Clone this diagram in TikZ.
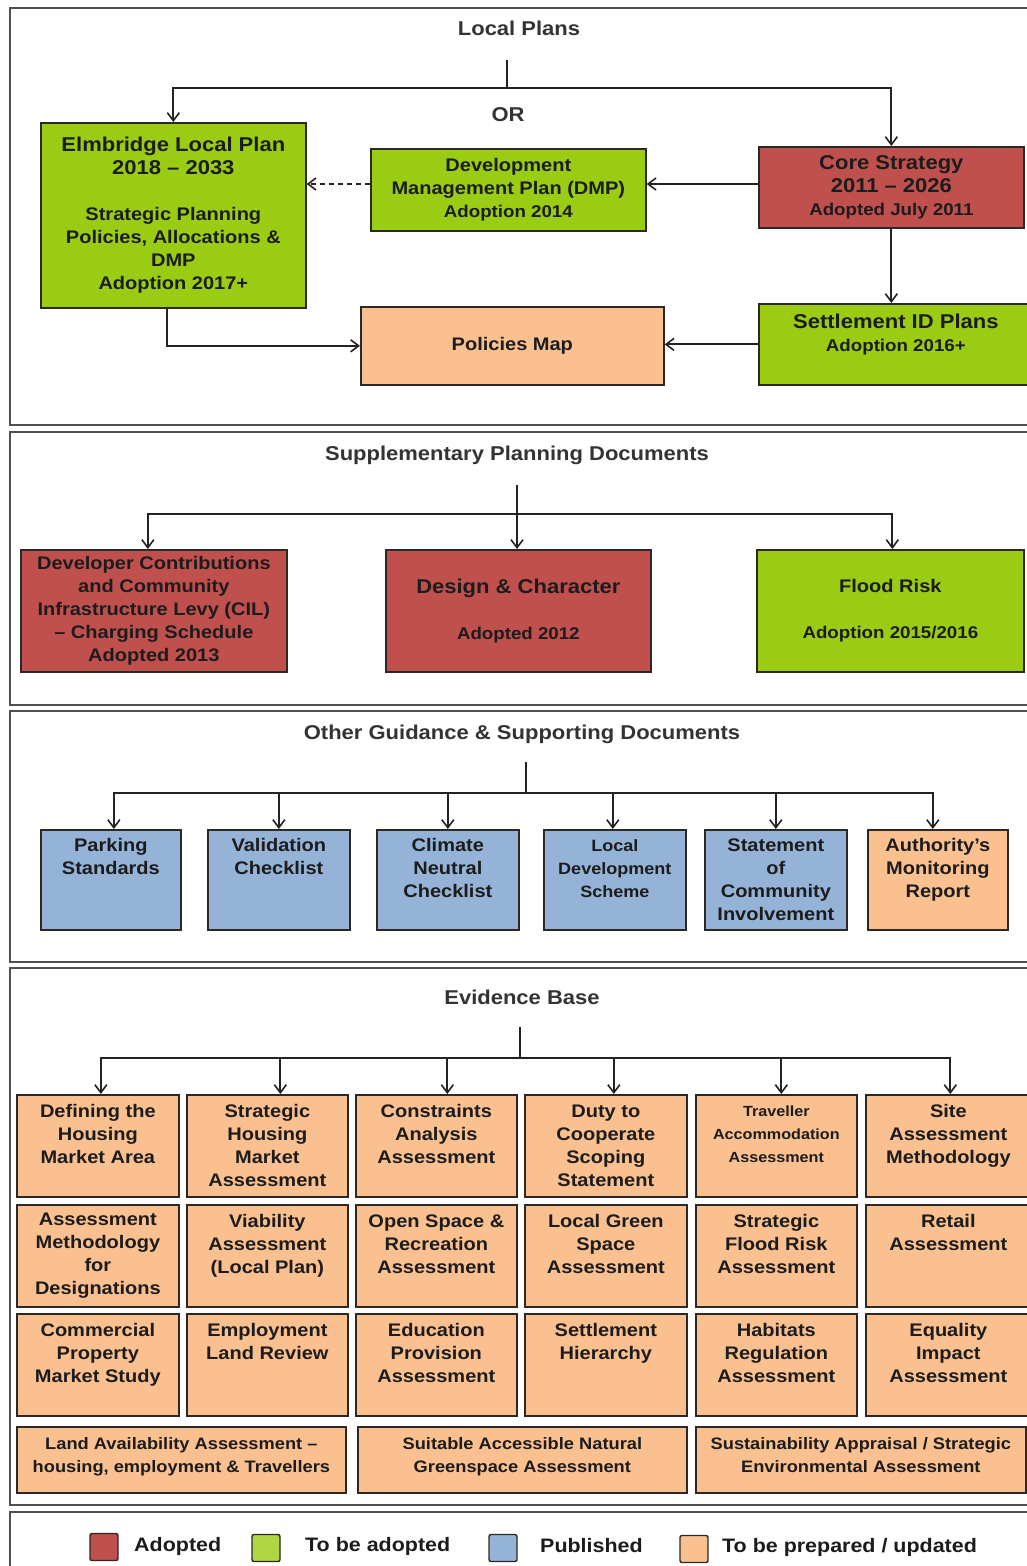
\documentclass[tikz,border=0pt]{standalone}
\usepackage{fontspec}
\setmainfont{Liberation Sans}[FakeStretch=1.1]
\usetikzlibrary{arrows.meta}
\definecolor{cred}{RGB}{192,80,77}
\definecolor{cgreen}{RGB}{154,204,20}
\definecolor{cblue}{RGB}{149,179,215}
\definecolor{corange}{RGB}{250,192,144}
\definecolor{bordc}{RGB}{45,40,35}
\definecolor{framec}{RGB}{80,80,80}
\definecolor{txtc}{RGB}{28,28,28}
\definecolor{lnc}{RGB}{35,35,35}
\newcommand\bfnt{\bfseries\fontsize{18.2}{23}\selectfont}
\newcommand\hfnt{\fontsize{20}{25}\selectfont}
\newcommand\sfnt{\fontsize{17}{23}\selectfont}
\newcommand\bx[7]{%
  \pgfmathsetmacro\bxw{#4-#2}\pgfmathsetmacro\bxh{#5-#3}%
  \node[#6, minimum width=\bxw pt, minimum height=\bxh pt, anchor=north west] (#1) at (#2,#3) {#7};}
\tikzset{
  x=1pt, y=-1pt,
  box/.style={draw=bordc, line width=1.7pt, inner sep=0pt, align=center, text=txtc, font=\bfnt},
  rbox/.style={box, fill=cred},
  gbox/.style={box, fill=cgreen},
  bbox/.style={box, fill=cblue},
  obox/.style={box, fill=corange},
  frame/.style={draw=framec, line width=2pt},
  title/.style={text=txtc!90!white, font=\bfseries\fontsize{20}{24}\selectfont, inner sep=0pt},
  ln/.style={draw=lnc, line width=1.8pt},
  arr/.style={ln, -{Straight Barb[length=8pt,width=12pt,line width=1.6pt]}},
  darr/.style={arr, dashed, dash pattern=on 5pt off 4pt},
  lgsq/.style={draw=bordc, line width=1.4pt, rounded corners=2pt, minimum width=28pt, minimum height=27pt, inner sep=0pt},
  lgtxt/.style={text=txtc, font=\bfseries\fontsize{19.5}{23}\selectfont, inner sep=0pt, anchor=west},
}
\begin{document}
\begin{tikzpicture}
\useasboundingbox (0,0) rectangle (1027,1566);
\clip (0,0) rectangle (1027,1566);
\fill[white] (0,0) rectangle (1027,1566);

% ---------- frames
\draw[frame] (10,8) rectangle (1045,425);
\draw[frame] (10,432) rectangle (1045,705);
\draw[frame] (10,711) rectangle (1045,962);
\draw[frame] (10,968) rectangle (1045,1505);
\draw[frame] (10,1512) rectangle (1045,1590);

% ---------- Local Plans
\node[title] (tlp) at (519,28) {Local Plans};
\node[title] (tor) at (508,115) {OR};
\coordinate (lpa) at (507,60);
\coordinate (lpb) at (507,88);

\bx{elm}{40}{122}{305}{307}{gbox}{{\hfnt Elmbridge Local Plan}\\{\hfnt 2018 – 2033}\\~\\Strategic Planning\\Policies, Allocations \&\\DMP\\Adoption 2017+}
\bx{dmp}{370}{148}{645}{230}{gbox}{Development\\Management Plan (DMP)\\{\sfnt Adoption 2014}}
\bx{core}{758}{146}{1023}{227}{rbox}{{\hfnt Core Strategy}\\{\hfnt 2011 – 2026}\\{\sfnt Adopted July 2011}}
\bx{settle}{758}{303}{1032}{384}{gbox}{{\hfnt Settlement ID Plans}\\{\sfnt Adoption 2016+}\\~}
\bx{pmap}{360}{306}{663}{384}{obox}{Policies Map}

\draw[ln] (lpa) -- (lpb);
\draw[arr] (lpb) -| (elm.north);
\draw[arr] (lpb) -| (core.north);
\draw[arr] (core.west |- 0,184) -- (dmp.east |- 0,184);
\draw[darr] (dmp.west |- 0,184) -- (elm.east |- 0,184);
\draw[arr] (core.south) -- (core.south |- settle.north);
\draw[arr] (settle.west) -- (settle.west -| pmap.east);
\draw[arr] ([xshift=-6pt]elm.south) |- (pmap.west);

% ---------- Supplementary Planning Documents
\node[title] (tspd) at (517,455) {Supplementary Planning Documents};
\coordinate (spa) at (517,485);
\coordinate (spb) at (517,514);
\bx{dev}{20}{549}{286}{671}{rbox}{Developer Contributions\\and Community\\Infrastructure Levy (CIL)\\– Charging Schedule\\Adopted 2013}
\bx{des}{385}{549}{650}{671}{rbox}{{\hfnt Design \& Character}\\~\\{\sfnt Adopted 2012}}
\bx{flood}{756}{549}{1023}{671}{gbox}{Flood Risk\\~\\{\sfnt Adoption 2015/2016}}
\draw[arr] (spa) -- (spa |- des.north);
\draw[arr] (spb) -| ([xshift=-6pt]dev.north);
\draw[arr] (spb) -| ([xshift=2pt]flood.north);

% ---------- Other Guidance
\node[title] (tog) at (522,734) {Other Guidance \& Supporting Documents};
\coordinate (oga) at (526,762);
\coordinate (ogb) at (526,793);
\bx{og1}{40}{829}{180}{929}{bbox}{Parking\\Standards\\~\\~}
\bx{og2}{207}{829}{349}{929}{bbox}{Validation\\Checklist\\~\\~}
\bx{og3}{376}{829}{518}{929}{bbox}{Climate\\Neutral\\Checklist\\~}
\bx{og4}{543}{829}{685}{929}{bbox}{\fontsize{16.4}{21}\selectfont Local\\\fontsize{16.4}{21}\selectfont Development\\\fontsize{16.4}{21}\selectfont Scheme\\~}
\bx{og5}{704}{829}{846}{929}{bbox}{Statement\\of\\Community\\Involvement}
\bx{og6}{867}{829}{1007}{929}{obox}{Authority’s\\Monitoring\\Report\\~}
\draw[ln] (oga) -- (ogb);
\foreach \n/\dx in {og1/3, og2/0, og3/0, og4/-2, og5/0, og6/-5}
  \draw[arr] (ogb) -| ([xshift=\dx pt]\n.north);

% ---------- Evidence Base
\node[title] (teb) at (522,997) {Evidence Base};
\coordinate (eba) at (520,1027);
\coordinate (ebb) at (520,1058);
% row 1
\bx{e11}{16}{1094}{178}{1196}{obox}{Defining the\\Housing\\Market Area\\~}
\bx{e12}{186}{1094}{347}{1196}{obox}{Strategic\\Housing\\Market\\Assessment}
\bx{e13}{355}{1094}{516}{1196}{obox}{Constraints\\Analysis\\Assessment\\~}
\bx{e14}{524}{1094}{686}{1196}{obox}{Duty to\\Cooperate\\Scoping\\Statement}
\bx{e15}{695}{1094}{856}{1196}{obox}{\fontsize{14.7}{21}\selectfont Traveller\\\fontsize{14.7}{21}\selectfont Accommodation\\\fontsize{14.7}{21}\selectfont Assessment\\~}
\bx{e16}{865}{1094}{1030}{1196}{obox}{Site\\Assessment\\Methodology\\~}
% row 2
\bx{e21}{16}{1204}{178}{1306}{obox}{Assessment\\Methodology\\for\\Designations}
\bx{e22}{186}{1204}{347}{1306}{obox}{Viability\\Assessment\\(Local Plan)\\~}
\bx{e23}{355}{1204}{516}{1306}{obox}{Open Space \&\\Recreation\\Assessment\\~}
\bx{e24}{524}{1204}{686}{1306}{obox}{Local Green\\Space\\Assessment\\~}
\bx{e25}{695}{1204}{856}{1306}{obox}{Strategic\\Flood Risk\\Assessment\\~}
\bx{e26}{865}{1204}{1030}{1306}{obox}{Retail\\Assessment\\~\\~}
% row 3
\bx{e31}{16}{1313}{178}{1415}{obox}{Commercial\\Property\\Market Study\\~}
\bx{e32}{186}{1313}{347}{1415}{obox}{Employment\\Land Review\\~\\~}
\bx{e33}{355}{1313}{516}{1415}{obox}{Education\\Provision\\Assessment\\~}
\bx{e34}{524}{1313}{686}{1415}{obox}{Settlement\\Hierarchy\\~\\~}
\bx{e35}{695}{1313}{856}{1415}{obox}{Habitats\\Regulation\\Assessment\\~}
\bx{e36}{865}{1313}{1030}{1415}{obox}{Equality\\Impact\\Assessment\\~}
% row 4
\bx{e41}{16}{1426}{345}{1492}{obox}{\fontsize{16.6}{23}\selectfont Land Availability Assessment –\\\fontsize{16.6}{23}\selectfont housing, employment \& Travellers\\[-13pt]~}
\bx{e42}{357}{1426}{686}{1492}{obox}{\fontsize{16.6}{23}\selectfont Suitable Accessible Natural\\\fontsize{16.6}{23}\selectfont Greenspace Assessment\\[-13pt]~}
\bx{e43}{695}{1426}{1025}{1492}{obox}{\fontsize{16.6}{23}\selectfont Sustainability Appraisal / Strategic\\\fontsize{16.6}{23}\selectfont Environmental Assessment\\[-13pt]~}
\draw[ln] (eba) -- (ebb);
\foreach \n/\dx in {e11/3, e12/13, e13/11, e14/8, e15/5, e16/2}
  \draw[arr] (ebb) -| ([xshift=\dx pt]\n.north);

% ---------- Legend
\node[lgsq, fill=cred] (lg1) at (104,1547) {};
\node[lgtxt] (lt1) at (134,1546) {Adopted};
\node[lgsq, fill=cgreen!80!white] (lg2) at (266,1548) {};
\node[lgtxt] (lt2) at (305,1546) {To be adopted};
\node[lgsq, fill=cblue] (lg3) at (503,1548) {};
\node[lgtxt] (lt3) at (540,1546) {Published};
\node[lgsq, fill=corange] (lg4) at (694,1549) {};
\node[lgtxt] (lt4) at (722,1547) {To be prepared / updated};
\end{tikzpicture}
\end{document}
